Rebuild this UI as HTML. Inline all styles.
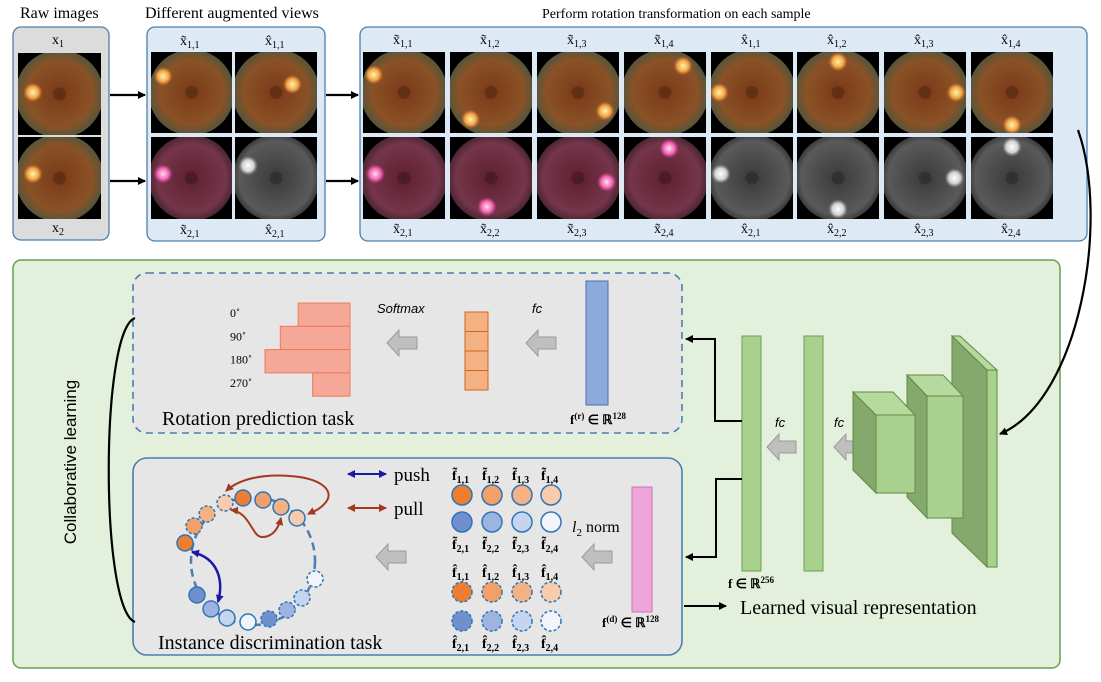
<!DOCTYPE html>
<html><head><meta charset="utf-8"><style>
body{margin:0;background:#fff}
svg{display:block;font-family:"Liberation Serif",serif}
.sans{font-family:"Liberation Sans",sans-serif}
</style></head><body>
<svg id="s" width="1101" height="682" viewBox="0 0 1101 682" xmlns="http://www.w3.org/2000/svg">
<defs>
<marker id="ah" markerWidth="8" markerHeight="8" refX="7" refY="4" orient="auto" markerUnits="userSpaceOnUse"><path d="M0,0 L8,4 L0,8 z" fill="#000"/></marker>
<marker id="ab" markerWidth="8" markerHeight="8" refX="7" refY="4" orient="auto-start-reverse" markerUnits="userSpaceOnUse"><path d="M0,0 L8,4 L0,8 z" fill="#1a1aa8"/></marker>
<marker id="ar" markerWidth="8" markerHeight="8" refX="7" refY="4" orient="auto-start-reverse" markerUnits="userSpaceOnUse"><path d="M0,0 L8,4 L0,8 z" fill="#a33a1e"/></marker>
<radialGradient id="gOr" cx="50%" cy="50%" r="50%"><stop offset="0" stop-color="#7a3a18"/><stop offset="0.75" stop-color="#8a5226"/><stop offset="1" stop-color="#55553c"/></radialGradient>
<radialGradient id="gPk" cx="50%" cy="50%" r="50%"><stop offset="0" stop-color="#5e2030"/><stop offset="0.8" stop-color="#75354a"/><stop offset="1" stop-color="#4a2632"/></radialGradient>
<radialGradient id="gGr" cx="50%" cy="50%" r="50%"><stop offset="0" stop-color="#3a3a3a"/><stop offset="0.85" stop-color="#5a5a5a"/><stop offset="1" stop-color="#3a3a3a"/></radialGradient>
<radialGradient id="dY"><stop offset="0" stop-color="#fff6b0"/><stop offset="0.6" stop-color="#f0a040"/><stop offset="1" stop-color="#c06030" stop-opacity="0"/></radialGradient>
<radialGradient id="dP"><stop offset="0" stop-color="#ffe0f0"/><stop offset="0.6" stop-color="#f060b0"/><stop offset="1" stop-color="#c04080" stop-opacity="0"/></radialGradient>
<radialGradient id="dW"><stop offset="0" stop-color="#ffffff"/><stop offset="0.6" stop-color="#d0d0d0"/><stop offset="1" stop-color="#909090" stop-opacity="0"/></radialGradient>
</defs>

<text x="20" y="18" font-size="16">Raw images</text>
<text x="145" y="18" font-size="16">Different augmented views</text>
<text x="542" y="18" font-size="14">Perform rotation transformation on each sample</text>

<rect x="13" y="27" width="96" height="213" rx="8" fill="#dcdcdc" stroke="#4a7fae" stroke-width="1.3"/>
<rect x="147" y="27" width="178" height="214" rx="8" fill="#dde9f4" stroke="#4a7fae" stroke-width="1.3"/>
<rect x="360" y="27" width="727" height="214" rx="8" fill="#dde9f4" stroke="#4a7fae" stroke-width="1.3"/>
<g id="tiles"></g>

<g stroke="#000" stroke-width="2.2" fill="none">
<line x1="110" y1="95" x2="145" y2="95" marker-end="url(#ah)"/>
<line x1="110" y1="181" x2="145" y2="181" marker-end="url(#ah)"/>
<line x1="326" y1="95" x2="358" y2="95" marker-end="url(#ah)"/>
<line x1="326" y1="181" x2="358" y2="181" marker-end="url(#ah)"/>
</g>

<rect x="13" y="260" width="1047" height="408" rx="8" fill="#e3f0dc" stroke="#6a9e50" stroke-width="1.5"/>
<path d="M1078,130 C1110,220 1080,400 1000,434" stroke="#000" stroke-width="2.2" fill="none" marker-end="url(#ah)"/>

<rect x="133" y="273" width="549" height="160" rx="14" fill="#e6e6e6" stroke="#4a7fae" stroke-width="1.6" stroke-dasharray="7,5"/>
<g id="rotBars"></g>
<text x="377" y="313" font-size="13" font-style="italic" class="sans">Softmax</text>
<text x="532" y="313" font-size="13" font-style="italic" class="sans">fc</text>
<rect x="586" y="281" width="22" height="124" fill="#8eaadb" stroke="#4a6fb0"/>
<text x="570" y="424" font-size="13" font-weight="bold">f<tspan font-size="9" dy="-5">(r)</tspan><tspan dy="5"> ∈ ℝ</tspan><tspan font-size="9" dy="-5">128</tspan></text>
<text x="162" y="425" font-size="20">Rotation prediction task</text>

<rect x="133" y="458" width="549" height="197" rx="14" fill="#e6e6e6" stroke="#4a7fae" stroke-width="1.6"/>
<line x1="348" y1="474" x2="386" y2="474" stroke="#1a1aa8" stroke-width="2" marker-start="url(#ab)" marker-end="url(#ab)"/>
<text x="394" y="481" font-size="19">push</text>
<line x1="348" y1="508" x2="386" y2="508" stroke="#a33a1e" stroke-width="2" marker-start="url(#ar)" marker-end="url(#ar)"/>
<text x="394" y="515" font-size="19">pull</text>
<ellipse cx="253" cy="561" rx="62" ry="64" fill="none" stroke="#4a7fae" stroke-width="2.5" stroke-dasharray="8,5"/>
<g id="ringNodes"></g>
<path d="M226,491 C240,478 265,474 290,476 C320,478 335,490 326,502 C320,510 312,512 308,514" stroke="#a33a1e" stroke-width="2" fill="none" marker-start="url(#ar)" marker-end="url(#ar)"/>
<path d="M231,510 C250,512 252,537 262,537 C272,537 278,530 281,518" stroke="#a33a1e" stroke-width="2" fill="none" marker-start="url(#ar)" marker-end="url(#ar)"/>
<path d="M192,552 C218,558 224,580 218,602" stroke="#1a1aa8" stroke-width="2.5" fill="none" marker-start="url(#ab)" marker-end="url(#ab)"/>
<g id="grid"></g>
<text x="572" y="532" font-size="16"><tspan font-style="italic">l</tspan><tspan font-size="11" dy="4">2</tspan><tspan dy="-4"> norm</tspan></text>
<rect x="632" y="487" width="20" height="125" fill="#eea6d8" stroke="#d070b8"/>
<text x="602" y="627" font-size="13" font-weight="bold">f<tspan font-size="9" dy="-5">(d)</tspan><tspan dy="5"> ∈ ℝ</tspan><tspan font-size="9" dy="-5">128</tspan></text>
<text x="158" y="649" font-size="20">Instance discrimination task</text>

<g id="garrows"></g>

<path d="M135,318 C100,330 100,610 135,622" stroke="#000" stroke-width="2.2" fill="none"/>
<text transform="translate(76,462) rotate(-90)" text-anchor="middle" font-size="17" class="sans">Collaborative learning</text>

<rect x="742" y="336" width="19" height="235" fill="#a9d18e" stroke="#6a9e50"/>
<rect x="804" y="336" width="19" height="235" fill="#a9d18e" stroke="#6a9e50"/>
<text x="775" y="427" font-size="13" font-style="italic" class="sans">fc</text>
<text x="834" y="427" font-size="13" font-style="italic" class="sans">fc</text>
<g>
<polygon points="952,336 987,370 987,567 952,533" fill="#85a96d" stroke="#5e8a44"/>
<polygon points="952,336 960,336 997,370 987,370" fill="#b6d99d" stroke="#5e8a44"/>
<rect x="987" y="370" width="10" height="197" fill="#a9d18e" stroke="#5e8a44"/>
</g>
<g>
<polygon points="907,375 927,396 927,518 907,497" fill="#85a96d" stroke="#5e8a44"/>
<polygon points="907,375 943,375 963,396 927,396" fill="#b6d99d" stroke="#5e8a44"/>
<rect x="927" y="396" width="36" height="122" fill="#a9d18e" stroke="#5e8a44"/>
</g>
<g>
<polygon points="853,392 876,415 876,493 853,470" fill="#85a96d" stroke="#5e8a44"/>
<polygon points="853,392 893,392 915,415 876,415" fill="#b6d99d" stroke="#5e8a44"/>
<rect x="876" y="415" width="39" height="78" fill="#a9d18e" stroke="#5e8a44"/>
</g>
<g stroke="#000" stroke-width="2" fill="none">
<polyline points="742,421 715,421 715,339 686,339" marker-end="url(#ah)"/>
<polyline points="742,479 716,479 716,557 686,557" marker-end="url(#ah)"/>
<line x1="684" y1="606" x2="726" y2="606" marker-end="url(#ah)"/>
</g>
<text x="728" y="588" font-size="13" font-weight="bold">f ∈ ℝ<tspan font-size="9" dy="-5">256</tspan></text>
<text x="740" y="614" font-size="20">Learned visual representation</text>
</svg>
<script>
const NS="http://www.w3.org/2000/svg";
function mk(p,t,a){const e=document.createElementNS(NS,t);for(const k in a)e.setAttribute(k,a[k]);p.appendChild(e);return e;}
const svgRoot=document.getElementById('s');
const tilesG=document.getElementById('tiles');
function fundus(x,y,w,h,g,disc,dx,dy,name){
 const gg=mk(tilesG,'svg',{x:x,y:y,width:w,height:h,overflow:'hidden'});
 
 
 mk(gg,'rect',{x:0,y:0,width:w,height:h,fill:'#000'});
 mk(gg,'circle',{cx:w/2,cy:h/2,r:w*0.53,fill:'url(#'+g+')'});
 mk(gg,'circle',{cx:w/2,cy:h/2,r:w*0.08,fill:'#000',opacity:0.2});
 mk(gg,'circle',{cx:dx*w,cy:dy*h,r:w*0.12,fill:'url(#'+disc+')'});
}
fundus(18,53,83,82,'gOr','dY',0.18,0.48,'raw-image-1');
fundus(18,137,83,82,'gOr','dY',0.18,0.45,'raw-image-2');
fundus(151,52,81,81,'gOr','dY',0.15,0.3,'aug-image-x11-tilde');
fundus(235,52,82,81,'gOr','dY',0.7,0.4,'aug-image-x11-hat');
fundus(151,137,81,82,'gPk','dP',0.15,0.45,'aug-image-x21-tilde');
fundus(235,137,82,82,'gGr','dW',0.16,0.35,'aug-image-x21-hat');
const tileX=[363,450,537,624,711,797,884,971];
const discs1=[[0.13,0.28],[0.25,0.83],[0.83,0.73],[0.72,0.17],[0.1,0.5],[0.5,0.12],[0.88,0.5],[0.5,0.9]];
const discs2=[[0.15,0.45],[0.45,0.85],[0.85,0.55],[0.55,0.14],[0.12,0.45],[0.5,0.88],[0.86,0.5],[0.5,0.12]];
const topLbl=['x̃<tspan font-size="10" dy="3">1,1</tspan>','x̃<tspan font-size="10" dy="3">1,2</tspan>','x̃<tspan font-size="10" dy="3">1,3</tspan>','x̃<tspan font-size="10" dy="3">1,4</tspan>','x̂<tspan font-size="10" dy="3">1,1</tspan>','x̂<tspan font-size="10" dy="3">1,2</tspan>','x̂<tspan font-size="10" dy="3">1,3</tspan>','x̂<tspan font-size="10" dy="3">1,4</tspan>'];
for(let i=0;i<8;i++){
 fundus(tileX[i],52,82,81,'gOr','dY',discs1[i][0],discs1[i][1],'rotated-top-'+(i+1));
 fundus(tileX[i],137,82,82,i<4?'gPk':'gGr',i<4?'dP':'dW',discs2[i][0],discs2[i][1],'rotated-bottom-'+(i+1));
 const t1=mk(svgRoot,'text',{x:tileX[i]+30,y:44,"font-size":14});t1.innerHTML=topLbl[i];
 
 
 const t2=mk(svgRoot,'text',{x:tileX[i]+30,y:233,"font-size":14});t2.innerHTML=topLbl[i].replace('1,','2,');
 
 
}
const smallLbls=[[52,44,'x<tspan font-size="10" dy="3">1</tspan>'],[52,232,'x<tspan font-size="10" dy="3">2</tspan>'],[180,45,'x̃<tspan font-size="10" dy="3">1,1</tspan>'],[265,45,'x̂<tspan font-size="10" dy="3">1,1</tspan>'],[180,234,'x̃<tspan font-size="10" dy="3">2,1</tspan>'],[265,234,'x̂<tspan font-size="10" dy="3">2,1</tspan>']];
for(const l of smallLbls){const t=mk(svgRoot,'text',{x:l[0],y:l[1],"font-size":14});t.innerHTML=l[2];
 
 }

const rotCategories=['0˚','90˚','180˚','270˚'];
const rotProbs=[0.61,0.82,1.0,0.44];
const rb=document.getElementById('rotBars');
const barRight=350,barMax=85,barTop=303,barH=23.3;
for(let i=0;i<rotProbs.length;i++){
 const w=rotProbs[i]*barMax;
 const r=mk(rb,'rect',{x:barRight-w,y:barTop+i*barH,width:w,height:barH,fill:'#f5a897',stroke:'#ee7a5a'});
 
 
 const t=mk(rb,'text',{x:230,y:barTop+i*barH+14,"font-size":12});t.textContent=rotCategories[i];
 
 
}
for(let i=0;i<4;i++){const c=mk(rb,'rect',{x:465,y:312+i*19.5,width:23,height:19.5,fill:'#f4b183',stroke:'#d0661e'});
 
 }

const ga=document.getElementById('garrows');
function garrow(x,y,w,name){
 const p=mk(ga,'path',{d:`M${x},${y} l12,-13 v7 h${w-12} v12 h-${w-12} v7 z`,fill:'#bfbfbf',stroke:'#9a9a9a'});
 
 
}
garrow(387,343,30,'softmax-arrow');garrow(526,343,30,'fc-arrow-rot');
garrow(376,557,30,'instance-arrow');garrow(582,557,30,'l2-arrow');
garrow(767,447,29,'fc-arrow-1');garrow(834,447,20,'fc-arrow-2');

const gr=document.getElementById('grid');
const orange=['#ed7d31','#f0a068','#f4b183','#f8cbad'];
const blue=['#6f8fcf','#9db3e0','#c5d5ef','#f2f5fb'];
const gx=[462,492,522,551];
function lab(x,y,acc,sub,name){const t=mk(gr,'text',{x:x-10,y:y,"font-size":14,"font-weight":"bold"});t.innerHTML=acc+'<tspan font-size="10" dy="3">'+sub+'</tspan>';
 
 }
for(let i=0;i<4;i++){
 lab(gx[i],480,'f̃','1,'+(i+1),'tilde-f1-label');
 lab(gx[i],549,'f̃','2,'+(i+1),'tilde-f2-label');
 lab(gx[i],577,'f̂','1,'+(i+1),'hat-f1-label');
 lab(gx[i],648,'f̂','2,'+(i+1),'hat-f2-label');
 const a=mk(gr,'circle',{cx:gx[i],cy:495,r:10,fill:orange[i],stroke:'#2e75b6',"stroke-width":1.5});
 
 const b=mk(gr,'circle',{cx:gx[i],cy:522,r:10,fill:blue[i],stroke:'#2e75b6',"stroke-width":1.5});
 
 const c=mk(gr,'circle',{cx:gx[i],cy:592,r:10,fill:orange[i],stroke:'#2e75b6',"stroke-width":1.5,"stroke-dasharray":"3,2"});
 
 const d=mk(gr,'circle',{cx:gx[i],cy:621,r:10,fill:blue[i],stroke:'#2e75b6',"stroke-width":1.5,"stroke-dasharray":"3,2"});
 
}
const rn=document.getElementById('ringNodes');
const nodes=[[243,498,orange[0],0],[263,500,orange[1],0],[281,507,orange[2],0],[297,518,orange[3],0],
[315,579,blue[3],1],[302,598,blue[2],1],[287,610,blue[1],1],[269,619,blue[0],1],[248,622,blue[3],0],[227,618,blue[2],0],[211,609,blue[1],0],[197,595,blue[0],0],
[185,543,orange[0],0],[194,526,orange[1],1],[207,514,orange[2],1],[225,503,orange[3],1]];
for(const n of nodes){const c=mk(rn,'circle',{cx:n[0],cy:n[1],r:8,fill:n[2],stroke:'#2e75b6',"stroke-width":1.5});
 if(n[3])c.setAttribute('stroke-dasharray','3,2');
 
 }
</script>
</body></html>
